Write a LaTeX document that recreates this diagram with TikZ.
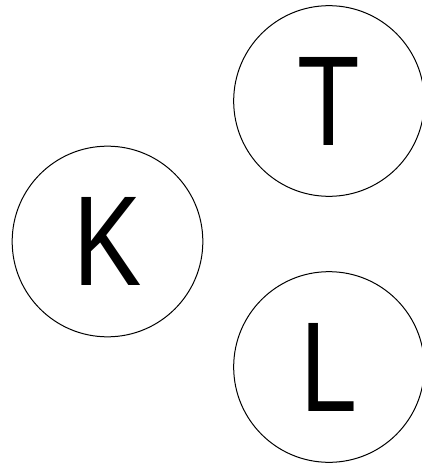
\documentclass[tikz,border=0pt]{standalone}
\usepackage{fontspec}
\setmainfont{Liberation Sans}
\usepackage{graphicx}
\usepackage{tikz}

\newcommand{\smalbokstav}[1]{\scalebox{0.8}[1]{#1}}

\begin{document}
\begin{tikzpicture}[x=0.75pt,y=-0.75pt,
    letter/.style={draw,circle,line width=0.75pt,minimum size=143pt,inner sep=0pt,
      font=\fontsize{96}{96}\selectfont}]
  % Ramme (i px)
  \useasboundingbox (0,0) rectangle (421,463);
  % Sirklene
  \node[letter] (T) at (329,101) {\smalbokstav{T}};
  \node[letter] (K) at (107.5,241.5) {\smalbokstav{K}};
  \node[letter] (L) at (329,367) {\smalbokstav{L}};
\end{tikzpicture}
\end{document}
